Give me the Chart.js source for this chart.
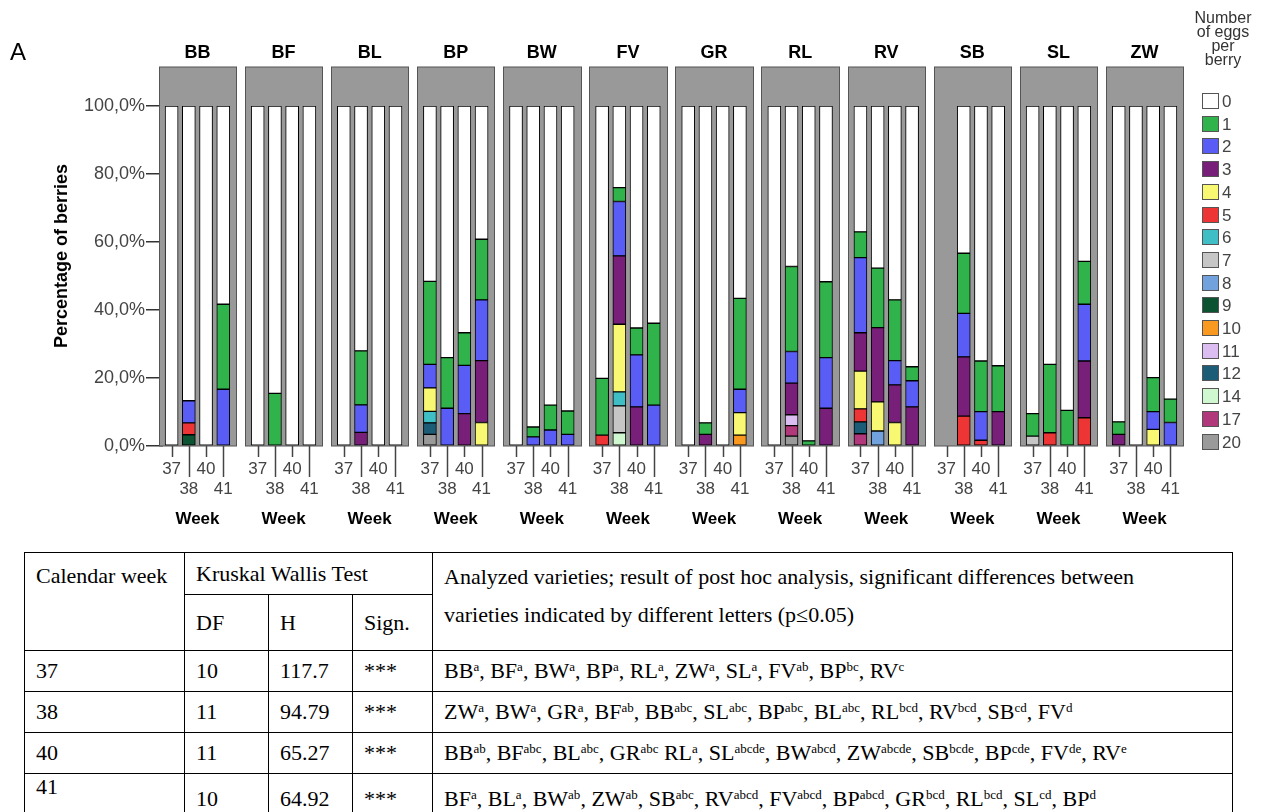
<!DOCTYPE html>
<html>
<head>
<meta charset="utf-8">
<script src="https://cdn.jsdelivr.net/npm/chart.js@4.4.0/dist/chart.umd.min.js"></script>
<style>
  body { margin: 0; background: #fff; }
  #wrap { position: relative; width: 1264px; height: 812px; overflow: hidden; }
  #chart { position: absolute; left: 0; top: 0; }
  #stats {
    position: absolute; left: 24px; top: 552px; width: 1209px;
    border-collapse: collapse; table-layout: fixed;
    font-family: "Liberation Serif", "Times New Roman", serif; font-size: 22px; color: #000;
  }
  #stats td { border: 1.5px solid #000; padding: 0 0 0 11px; white-space: nowrap; }
  #stats sup { font-size: 13px; line-height: 0; vertical-align: 7px; }
</style>
</head>
<body>
<div id="wrap">
  <canvas id="chart" width="1264" height="548"></canvas>
  <table id="stats">
    <colgroup><col style="width:160px"><col style="width:84px"><col style="width:84px"><col style="width:80px"><col></colgroup>
    <tr style="height:42px">
      <td rowspan="2" style="vertical-align:top;padding-top:8px;line-height:30px">Calendar week</td>
      <td colspan="3">Kruskal Wallis Test</td>
      <td rowspan="2" style="vertical-align:top;padding-top:5px;line-height:38px">Analyzed varieties; result of post hoc analysis, significant differences between<br>varieties indicated by different letters (p&le;0.05)</td>
    </tr>
    <tr style="height:56px"><td>DF</td><td>H</td><td>Sign.</td></tr>
  </table>
</div>
<script>
// varieties (panels) and weeks (bars per panel)
const varieties = ["BB", "BF", "BL", "BP", "BW", "FV", "GR", "RL", "RV", "SB", "SL", "ZW"];
const weeks = ["37", "38", "40", "41"];
const yTicks = [0, 20, 40, 60, 80, 100];

// number of eggs per berry (legend order)
const eggClasses = ["0", "1", "2", "3", "4", "5", "6", "7", "8", "9", "10", "11", "12", "14", "17", "20"];
const eggColors = ["#ffffff", "#2fb34a", "#5a5cf6", "#771f79", "#f8f872", "#ee3535", "#3fbec6", "#c6c6c6",
  "#71a2de", "#0c5331", "#f9991f", "#dcbdf1", "#1b5c76", "#d0f8d0", "#b1387b", "#9a9a9a"];

// percentage of berries, 4 weeks per variety in the order of varieties (null = not sampled)
const eggs0 = [100, 86.7, 100, 58.3,  100, 84.5, 100, 100,  100, 72.0, 100, 100,  51.6, 74.0, 66.7, 39.2,
  100, 94.4, 88.0, 89.7,  80.1, 24.0, 65.3, 63.9,  100, 93.2, 100, 56.6,  100, 47.2, 98.5, 51.7,
  37.0, 47.7, 57.0, 76.7,  null, 43.3, 75.0, 76.4,  90.5, 76.0, 89.5, 45.7,  92.9, 100, 79.9, 86.2];
const eggs1 = [0, 0, 0, 25.0,  0, 15.5, 0, 0,  0, 15.9, 0, 0,  24.4, 14.9, 9.6, 17.8,
  0, 2.9, 7.3, 6.9,  16.7, 4.1, 7.9, 24.1,  0, 3.4, 0, 26.7,  0, 25.0, 1.5, 22.3,
  7.6, 17.5, 17.9, 4.1,  null, 17.7, 14.9, 13.5,  6.6, 20.1, 10.5, 12.6,  3.7, 0, 10.0, 6.9];
const eggs2 = [0, 6.5, 0, 16.7,  0, 0, 0, 0,  0, 8.1, 0, 0,  6.9, 11.1, 14.2, 17.9,
  0, 2.7, 4.7, 3.4,  0, 16.0, 15.3, 12.0,  0, 0, 0, 6.9,  0, 9.3, 0, 14.9,
  22.1, 0, 7.1, 7.7,  null, 12.8, 8.4, 0,  0, 0, 0, 16.7,  0, 0, 5.2, 6.9];
const eggs3 = [0, 0, 0, 0,  0, 0, 0, 0,  0, 4.0, 0, 0,  0, 0, 9.5, 18.2,
  0, 0, 0, 0,  0, 20.1, 11.5, 0,  0, 3.4, 0, 0,  0, 9.3, 0, 11.1,
  11.3, 21.8, 11.1, 11.5,  null, 17.4, 0, 10.1,  0, 0, 0, 16.7,  3.4, 0, 0, 0];
const eggs4 = [0, 0, 0, 0,  0, 0, 0, 0,  0, 0, 0, 0,  6.9, 0, 0, 6.9,
  0, 0, 0, 0,  0, 19.9, 0, 0,  0, 0, 0, 6.6,  0, 0, 0, 0,
  11.1, 8.6, 6.9, 0,  null, 0, 0, 0,  0, 0, 0, 0,  0, 0, 4.9, 0];
const eggs5 = [0, 3.5, 0, 0,  0, 0, 0, 0,  0, 0, 0, 0,  0, 0, 0, 0,
  0, 0, 0, 0,  3.2, 0, 0, 0,  0, 0, 0, 0,  0, 0, 0, 0,
  3.8, 0, 0, 0,  null, 8.8, 1.7, 0,  0, 3.9, 0, 8.3,  0, 0, 0, 0];
const eggs6 = [0, 0, 0, 0,  0, 0, 0, 0,  0, 0, 0, 0,  3.4, 0, 0, 0,
  0, 0, 0, 0,  0, 4.1, 0, 0,  0, 0, 0, 0,  0, 0, 0, 0,
  0, 0, 0, 0,  null, 0, 0, 0,  0, 0, 0, 0,  0, 0, 0, 0];
const eggs7 = [0, 0, 0, 0,  0, 0, 0, 0,  0, 0, 0, 0,  0, 0, 0, 0,
  0, 0, 0, 0,  0, 7.9, 0, 0,  0, 0, 0, 0,  0, 0, 0, 0,
  0, 0, 0, 0,  null, 0, 0, 0,  2.9, 0, 0, 0,  0, 0, 0, 0];
const eggs8 = [0, 0, 0, 0,  0, 0, 0, 0,  0, 0, 0, 0,  0, 0, 0, 0,
  0, 0, 0, 0,  0, 0, 0, 0,  0, 0, 0, 0,  0, 0, 0, 0,
  0, 4.4, 0, 0,  null, 0, 0, 0,  0, 0, 0, 0,  0, 0, 0, 0];
const eggs9 = [0, 3.3, 0, 0,  0, 0, 0, 0,  0, 0, 0, 0,  0, 0, 0, 0,
  0, 0, 0, 0,  0, 0, 0, 0,  0, 0, 0, 0,  0, 0, 0, 0,
  0, 0, 0, 0,  null, 0, 0, 0,  0, 0, 0, 0,  0, 0, 0, 0];
const eggs10 = [0, 0, 0, 0,  0, 0, 0, 0,  0, 0, 0, 0,  0, 0, 0, 0,
  0, 0, 0, 0,  0, 0, 0, 0,  0, 0, 0, 3.2,  0, 0, 0, 0,
  0, 0, 0, 0,  null, 0, 0, 0,  0, 0, 0, 0,  0, 0, 0, 0];
const eggs11 = [0, 0, 0, 0,  0, 0, 0, 0,  0, 0, 0, 0,  0, 0, 0, 0,
  0, 0, 0, 0,  0, 0, 0, 0,  0, 0, 0, 0,  0, 3.2, 0, 0,
  0, 0, 0, 0,  null, 0, 0, 0,  0, 0, 0, 0,  0, 0, 0, 0];
const eggs12 = [0, 0, 0, 0,  0, 0, 0, 0,  0, 0, 0, 0,  3.4, 0, 0, 0,
  0, 0, 0, 0,  0, 0, 0, 0,  0, 0, 0, 0,  0, 0, 0, 0,
  3.5, 0, 0, 0,  null, 0, 0, 0,  0, 0, 0, 0,  0, 0, 0, 0];
const eggs14 = [0, 0, 0, 0,  0, 0, 0, 0,  0, 0, 0, 0,  0, 0, 0, 0,
  0, 0, 0, 0,  0, 3.9, 0, 0,  0, 0, 0, 0,  0, 0, 0, 0,
  0, 0, 0, 0,  null, 0, 0, 0,  0, 0, 0, 0,  0, 0, 0, 0];
const eggs17 = [0, 0, 0, 0,  0, 0, 0, 0,  0, 0, 0, 0,  0, 0, 0, 0,
  0, 0, 0, 0,  0, 0, 0, 0,  0, 0, 0, 0,  0, 3.1, 0, 0,
  3.6, 0, 0, 0,  null, 0, 0, 0,  0, 0, 0, 0,  0, 0, 0, 0];
const eggs20 = [0, 0, 0, 0,  0, 0, 0, 0,  0, 0, 0, 0,  3.4, 0, 0, 0,
  0, 0, 0, 0,  0, 0, 0, 0,  0, 0, 0, 0,  0, 2.9, 0, 0,
  0, 0, 0, 0,  null, 0, 0, 0,  0, 0, 0, 0,  0, 0, 0, 0];
const eggSeries = [eggs0, eggs1, eggs2, eggs3, eggs4, eggs5, eggs6, eggs7, eggs8, eggs9,
  eggs10, eggs11, eggs12, eggs14, eggs17, eggs20];

// Kruskal Wallis table
const tableWeeks = ["37", "38", "40", "41"];
const kwDF = ["10", "11", "11", "10"];
const kwH = ["117.7", "94.79", "65.27", "64.92"];
const kwSign = ["***", "***", "***", "***"];
const postHoc = [
  "BB^a, BF^a, BW^a, BP^a, RL^a, ZW^a, SL^a, FV^ab, BP^bc, RV^c",
  "ZW^a, BW^a, GR^a, BF^ab, BB^abc, SL^abc, BP^abc, BL^abc, RL^bcd, RV^bcd, SB^cd, FV^d",
  "BB^ab, BF^abc, BL^abc, GR^abc RL^a, SL^abcde, BW^abcd, ZW^abcde, SB^bcde, BP^cde, FV^de, RV^e",
  "BF^a, BL^a, BW^ab, ZW^ab, SB^abc, RV^abcd, FV^abcd, BP^abcd, GR^bcd, RL^bcd, SL^cd, BP^d"
];

// table rows
const table = document.getElementById("stats");
tableWeeks.forEach((w, i) => {
  const last = i === tableWeeks.length - 1;
  const tr = document.createElement("tr");
  tr.style.height = last ? "50px" : "41px";
  const cells = [w, kwDF[i], kwH[i], kwSign[i], postHoc[i].replace(/\^([a-e]+)/g, "<sup>$1</sup>")];
  cells.forEach((c, j) => {
    const td = document.createElement("td");
    td.innerHTML = c;
    if (last && j === 0) { td.style.verticalAlign = "top"; td.style.lineHeight = "26px"; }
    tr.appendChild(td);
  });
  table.appendChild(tr);
});

// one category per bar, plus an empty category between panels
const perPanel = weeks.length + 1;
const labels = [];
varieties.forEach((v, p) => {
  weeks.forEach((w, i) => labels.push(i % 2 ? ["", w] : w));
  if (p < varieties.length - 1) labels.push("");
});

function spread(values) {
  const out = [];
  varieties.forEach((v, p) => {
    for (let i = 0; i < weeks.length; i++) {
      const val = values[p * weeks.length + i];
      out.push(val ? val : null);
    }
    if (p < varieties.length - 1) out.push(null);
  });
  return out;
}

// highest class goes at the bottom of each stack
const datasets = eggClasses.map((c, k) => ({
  label: c,
  data: spread(eggSeries[k]),
  backgroundColor: eggColors[k],
  borderColor: "#000",
  borderWidth: 1,
  borderSkipped: false,
  barThickness: 13
})).reverse();

const FONT = '"Liberation Sans", Arial, sans-serif';

const panelPlugin = {
  id: "panels",
  beforeDatasetsDraw(chart) {
    const { ctx, chartArea, scales: { x } } = chart;
    const step = x.getPixelForValue(1) - x.getPixelForValue(0);
    const top = chartArea.top - 39;
    ctx.save();
    varieties.forEach((v, p) => {
      const left = Math.round(x.getPixelForValue(p * perPanel) - 0.75 * step) + 0.5;
      const right = Math.round(x.getPixelForValue(p * perPanel + 3) + 0.75 * step) + 0.5;
      ctx.fillStyle = "#999999";
      ctx.fillRect(left, top, right - left, chartArea.bottom - top);
      ctx.strokeStyle = "#555";
      ctx.lineWidth = 1;
      ctx.strokeRect(left, top, right - left, chartArea.bottom - top);
    });
    ctx.restore();
  },
  afterDraw(chart) {
    const { ctx, chartArea, scales: { x } } = chart;
    ctx.save();
    // week tick marks, long ones for the second label row
    ctx.strokeStyle = "#444";
    ctx.lineWidth = 1.5;
    varieties.forEach((v, p) => {
      weeks.forEach((w, i) => {
        const px = Math.round(x.getPixelForValue(p * perPanel + i)) + 0.5;
        ctx.beginPath();
        ctx.moveTo(px, chartArea.bottom);
        ctx.lineTo(px, chartArea.bottom + (i % 2 ? 31 : 11));
        ctx.stroke();
      });
      const mid = (x.getPixelForValue(p * perPanel) + x.getPixelForValue(p * perPanel + 3)) / 2;
      ctx.fillStyle = "#000";
      ctx.textAlign = "center";
      ctx.textBaseline = "middle";
      ctx.font = "bold 18px " + FONT;
      ctx.fillText(v, mid, chartArea.top - 53);
      ctx.font = "bold 17px " + FONT;
      ctx.fillText("Week", mid, chartArea.bottom + 73);
    });

    // y axis title
    ctx.save();
    ctx.translate(62, 256);
    ctx.rotate(-Math.PI / 2);
    ctx.font = "bold 18px " + FONT;
    ctx.fillStyle = "#000";
    ctx.fillText("Percentage of berries", 0, 0);
    ctx.restore();

    // panel letter
    ctx.textAlign = "left";
    ctx.textBaseline = "alphabetic";
    ctx.font = "24px " + FONT;
    ctx.fillText("A", 10, 60);

    // legend
    ctx.fillStyle = "#333";
    ctx.textAlign = "center";
    ctx.textBaseline = "middle";
    ctx.font = "16px " + FONT;
    ["Number", "of eggs", "per", "berry"].forEach((t, i) => ctx.fillText(t, 1223, 19 + i * 13.7));
    ctx.textAlign = "left";
    ctx.font = "17px " + FONT;
    eggClasses.forEach((c, k) => {
      const cy = Math.round(101 + k * 22.7);
      ctx.fillStyle = eggColors[k];
      ctx.fillRect(1202.5, cy - 7.5, 16, 15);
      ctx.strokeStyle = "#555";
      ctx.lineWidth = 1;
      ctx.strokeRect(1202.5, cy - 7.5, 16, 15);
      ctx.fillStyle = "#444";
      ctx.fillText(c, 1222, cy + 1);
    });
    ctx.restore();
  }
};

new Chart(document.getElementById("chart"), {
  type: "bar",
  data: { labels: labels, datasets: datasets },
  options: {
    responsive: false,
    devicePixelRatio: 1,
    animation: false,
    layout: { padding: { top: 106, right: 85, left: 0, bottom: 0 } },
    plugins: { legend: { display: false }, tooltip: { enabled: false } },
    scales: {
      x: {
        stacked: true,
        grid: { display: false, drawTicks: false },
        border: { display: false },
        ticks: {
          autoSkip: false, maxRotation: 0, minRotation: 0, padding: 13,
          color: "#444", font: { family: FONT, size: 17, lineHeight: 1.18 }
        },
        afterFit: (s) => { s.height = 102; }
      },
      y: {
        stacked: true,
        min: 0,
        max: 100,
        afterBuildTicks: (s) => { s.ticks = yTicks.map(v => ({ value: v })); },
        grid: { drawOnChartArea: false, drawTicks: true, tickLength: 17, color: "#333", lineWidth: 1.5 },
        border: { display: false },
        ticks: {
          padding: 1, color: "#444", font: { family: FONT, size: 18 },
          callback: (v) => v.toFixed(1).replace(".", ",") + "%"
        },
        afterFit: (s) => { s.width = 163; }
      }
    }
  },
  plugins: [panelPlugin]
});
</script>
</body>
</html>
